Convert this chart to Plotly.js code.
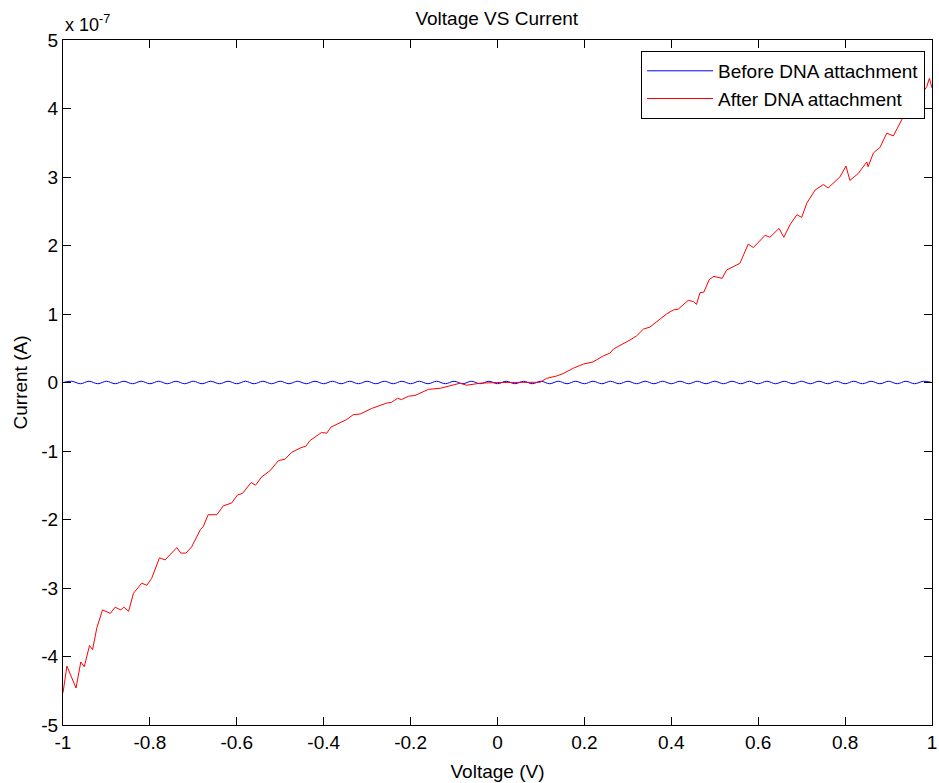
<!DOCTYPE html>
<html>
<head>
<meta charset="utf-8">
<script src="https://cdn.plot.ly/plotly-3.0.1.min.js"></script>
<style>html,body{margin:0;padding:0;background:#fff;}#chart{width:939px;height:783px;}</style>
</head>
<body>
<div id="chart"></div>
<script>
// Current values are in units of 1e-7 A (axis multiplier shown as "x 10^-7")
const voltageAfter = [-1, -0.991, -0.970, -0.959, -0.951, -0.939, -0.932, -0.922, -0.909, -0.891, -0.880, -0.867, -0.860, -0.849, -0.838, -0.819, -0.807, -0.796, -0.778, -0.765, -0.738, -0.729, -0.717, -0.704, -0.684, -0.677, -0.666, -0.646, -0.631, -0.612, -0.598, -0.587, -0.567, -0.557, -0.543, -0.524, -0.504, -0.489, -0.474, -0.452, -0.441, -0.432, -0.405, -0.393, -0.383, -0.362, -0.347, -0.332, -0.316, -0.290, -0.273, -0.255, -0.244, -0.230, -0.221, -0.205, -0.190, -0.167, -0.159, -0.132, -0.109, -0.086, -0.071, -0.040, -0.002, 0.036, 0.098, 0.113, 0.136, 0.151, 0.175, 0.198, 0.220, 0.244, 0.259, 0.267, 0.286, 0.305, 0.320, 0.336, 0.351, 0.370, 0.389, 0.405, 0.416, 0.439, 0.451, 0.458, 0.466, 0.475, 0.487, 0.498, 0.517, 0.527, 0.558, 0.577, 0.589, 0.616, 0.627, 0.648, 0.659, 0.673, 0.689, 0.700, 0.712, 0.731, 0.750, 0.761, 0.788, 0.802, 0.811, 0.830, 0.850, 0.853, 0.865, 0.880, 0.896, 0.911, 0.934, 0.949, 0.970, 0.988, 0.994, 1.0];
const currentAfter = [-4.53, -4.14, -4.46, -4.08, -4.15, -3.84, -3.90, -3.58, -3.32, -3.37, -3.28, -3.32, -3.28, -3.34, -3.08, -2.93, -2.96, -2.86, -2.56, -2.59, -2.41, -2.49, -2.49, -2.40, -2.15, -2.10, -1.93, -1.93, -1.80, -1.76, -1.64, -1.62, -1.46, -1.50, -1.38, -1.29, -1.14, -1.12, -1.02, -0.95, -0.93, -0.85, -0.73, -0.74, -0.65, -0.59, -0.54, -0.47, -0.46, -0.38, -0.34, -0.30, -0.29, -0.23, -0.25, -0.20, -0.19, -0.13, -0.10, -0.085, -0.05, -0.01, -0.04, -0.01, 0.0, 0.003, 0.003, 0.06, 0.095, 0.13, 0.21, 0.27, 0.30, 0.39, 0.43, 0.49, 0.55, 0.62, 0.68, 0.78, 0.81, 0.90, 1.00, 1.06, 1.07, 1.20, 1.18, 1.14, 1.31, 1.32, 1.50, 1.55, 1.52, 1.64, 1.74, 2.02, 1.97, 2.15, 2.12, 2.25, 2.12, 2.30, 2.45, 2.41, 2.62, 2.81, 2.89, 2.84, 3.00, 3.16, 2.95, 3.05, 3.22, 3.15, 3.35, 3.43, 3.64, 3.60, 3.88, 4.00, 4.15, 4.32, 4.44, 4.30];

const voltageBefore = [-1, -0.98, -0.96, -0.94, -0.92, -0.90, -0.88, -0.86, -0.84, -0.82, -0.80, -0.78, -0.76, -0.74, -0.72, -0.70, -0.68, -0.66, -0.64, -0.62, -0.60, -0.58, -0.56, -0.54, -0.52, -0.50, -0.48, -0.46, -0.44, -0.42, -0.40, -0.38, -0.36, -0.34, -0.32, -0.30, -0.28, -0.26, -0.24, -0.22, -0.20, -0.18, -0.16, -0.14, -0.12, -0.10, -0.08, -0.06, -0.04, -0.02, 0, 0.02, 0.04, 0.06, 0.08, 0.10, 0.12, 0.14, 0.16, 0.18, 0.20, 0.22, 0.24, 0.26, 0.28, 0.30, 0.32, 0.34, 0.36, 0.38, 0.40, 0.42, 0.44, 0.46, 0.48, 0.50, 0.52, 0.54, 0.56, 0.58, 0.60, 0.62, 0.64, 0.66, 0.68, 0.70, 0.72, 0.74, 0.76, 0.78, 0.80, 0.82, 0.84, 0.86, 0.88, 0.90, 0.92, 0.94, 0.96, 0.98, 1.0];
const currentBefore = [0.0, 0.018, -0.018, 0.018, -0.018, 0.018, -0.018, 0.018, -0.018, 0.018, -0.018, 0.018, -0.018, 0.018, -0.018, 0.018, -0.018, 0.018, -0.018, 0.018, -0.018, 0.018, -0.018, 0.018, -0.018, 0.018, -0.018, 0.018, -0.018, 0.018, -0.018, 0.018, -0.018, 0.018, -0.018, 0.018, -0.018, 0.018, -0.018, 0.018, -0.018, 0.018, -0.018, 0.018, -0.018, 0.018, -0.018, 0.018, -0.018, 0.018, -0.018, 0.018, -0.018, 0.018, -0.018, 0.018, -0.018, 0.018, -0.018, 0.018, -0.018, 0.018, -0.018, 0.018, -0.018, 0.018, -0.018, 0.018, -0.018, 0.018, -0.018, 0.018, -0.018, 0.018, -0.018, 0.018, -0.018, 0.018, -0.018, 0.018, -0.018, 0.018, -0.018, 0.018, -0.018, 0.018, -0.018, 0.018, -0.018, 0.018, -0.018, 0.018, -0.018, 0.018, -0.018, 0.018, -0.018, 0.018, -0.018, 0.018, 0.0];

const xTickVals = [-1, -0.8, -0.6, -0.4, -0.2, 0, 0.2, 0.4, 0.6, 0.8, 1];
const xTickText = ['-1', '-0.8', '-0.6', '-0.4', '-0.2', '0', '0.2', '0.4', '0.6', '0.8', '1'];
const yTickVals = [-5, -4, -3, -2, -1, 0, 1, 2, 3, 4, 5];
const yTickText = ['-5', '-4', '-3', '-2', '-1', '0', '1', '2', '3', '4', '5'];
const seriesNames = ['Before DNA attachment', 'After DNA attachment'];

const FONT = 'Liberation Sans, Arial, sans-serif';

const traces = [
  {x: voltageBefore, y: currentBefore, type: 'scatter', mode: 'lines', name: seriesNames[0],
   line: {color: '#0000ff', width: 1, shape: 'spline', smoothing: 1}},
  {x: voltageAfter, y: currentAfter, type: 'scatter', mode: 'lines', name: seriesNames[1],
   line: {color: '#ff0000', width: 1}}
];

const axisCommon = {
  showgrid: false, zeroline: false, showline: true, linecolor: '#000', linewidth: 1,
  mirror: 'ticks', ticks: 'inside', ticklen: 8, tickcolor: '#000', tickwidth: 1,
  tickfont: {family: FONT, size: 19, color: '#000'}, tickmode: 'array'
};

const layout = {
  width: 939, height: 783,
  margin: {l: 63, r: 7, t: 40, b: 58},
  paper_bgcolor: '#fff', plot_bgcolor: '#fff',
  showlegend: true,
  title: {text: 'Voltage VS Current', font: {family: FONT, size: 19, color: '#000'},
          x: 0.529, xanchor: 'center', y: 0.977, yanchor: 'middle'},
  xaxis: Object.assign({}, axisCommon, {
    range: [-1, 1], tickvals: xTickVals, ticktext: xTickText,
    title: {text: 'Voltage (V)', font: {family: FONT, size: 19, color: '#000'}, standoff: 12}
  }),
  yaxis: Object.assign({}, axisCommon, {
    range: [-5, 5], tickvals: yTickVals, ticktext: yTickText,
    title: {text: 'Current (A)', font: {family: FONT, size: 19, color: '#000'}, standoff: 8}
  }),
  legend: {
    x: 0.992, xanchor: 'right', y: 0.984, yanchor: 'top',
    bgcolor: '#fff', bordercolor: '#000', borderwidth: 1,
    font: {family: FONT, size: 19, color: '#000'},
    itemwidth: 66, tracegroupgap: 0
  },
  annotations: [{
    xref: 'paper', yref: 'paper', x: 0, y: 1, xanchor: 'left', yanchor: 'bottom', yshift: 3,
    text: 'x 10<sup>-7</sup>', showarrow: false, font: {family: FONT, size: 18, color: '#000'}
  }]
};

Plotly.newPlot('chart', traces, layout, {displayModeBar: false, staticPlot: true});
</script>
</body>
</html>
